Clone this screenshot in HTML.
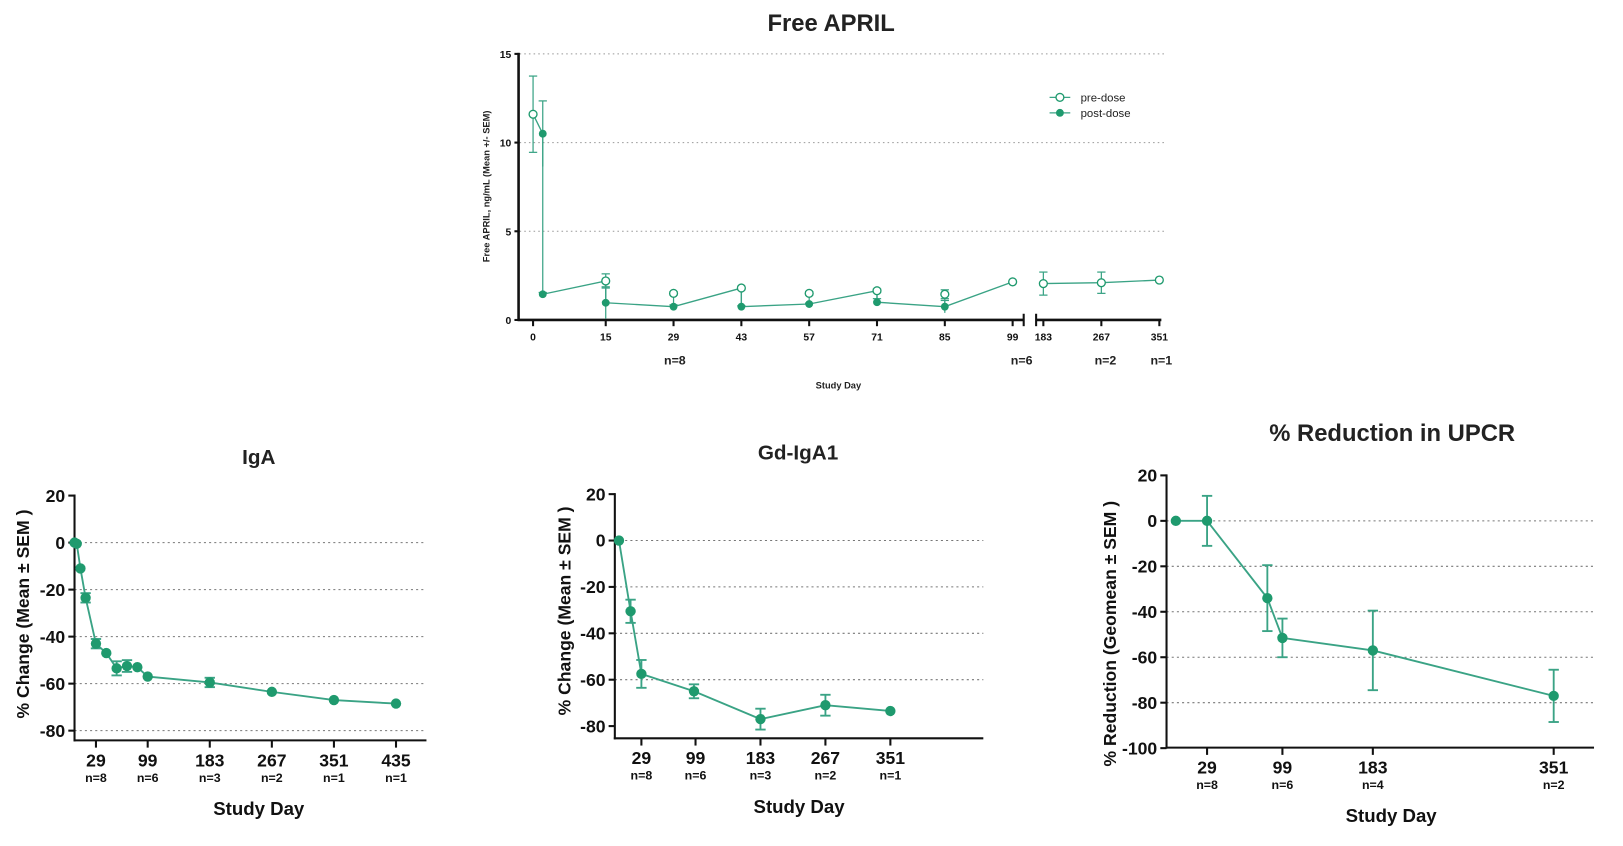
<!DOCTYPE html>
<html><head><meta charset="utf-8"><style>
html,body{margin:0;padding:0;background:#fff;}
svg{display:block;font-family:"Liberation Sans",Arial,sans-serif;}
</style></head><body>
<svg id="s" width="1623" height="846" viewBox="0 0 1568 817" preserveAspectRatio="none"></svg>
<script>
// ---- Free APRIL data ----
const aprilPreDays=[0,15,29,43,57,71,85,99,183,267,351];
const aprilPreVals=[11.6,2.2,1.5,1.8,1.5,1.65,1.45,2.15,2.05,2.1,2.25];
const aprilPreErr=[2.15,0.4,0.1,0.1,0.1,0.1,0.25,0.05,0.65,0.6,0.05];
const aprilPostDays=[2,2,15,29,43,57,71,85];
const aprilPostVals=[10.5,1.45,0.97,0.75,0.75,0.9,1.0,0.75];
const aprilPostErr=[1.85,0.1,0.9,0.1,0.05,0.05,0.2,0.35];
const aprilYTicks=[0,5,10,15];
const aprilXTicks=[0,15,29,43,57,71,85,99,183,267,351];
// ---- IgA ----
const igaDays=[0,3,8,15,29,43,57,71,85,99,183,267,351,435];
const igaVals=[0,-0.5,-11,-23.5,-43,-47,-53.5,-52.5,-53,-57,-59.5,-63.5,-67,-68.5];
const igaErr=[1,1,1,2,2,1,3,2.5,1,1,2,1,1,1];
const igaXTicks=[29,99,183,267,351,435];
const igaN=["n=8","n=6","n=3","n=2","n=1","n=1"];
const igaYTicks=[20,0,-20,-40,-60,-80];
// ---- Gd-IgA1 ----
const gdDays=[0,15,29,97,183,267,351];
const gdVals=[0,-30.5,-57.5,-65,-77,-71,-73.5];
const gdErr=[0,5,6,3,4.5,4.5,1];
const gdXTicks=[29,99,183,267,351];
const gdN=["n=8","n=6","n=3","n=2","n=1"];
const gdYTicks=[20,0,-20,-40,-60,-80];
// ---- UPCR ----
const upDays=[0,29,85,99,183,351];
const upVals=[0,0,-34,-51.5,-57,-77];
const upErr=[0,11,14.5,8.5,17.5,11.5];
const upXTicks=[29,99,183,351];
const upN=["n=8","n=6","n=4","n=2"];
const upYTicks=[20,0,-20,-40,-60,-80,-100];

const NS="http://www.w3.org/2000/svg";
const svg=document.getElementById('s');
const G="#1f9a6e", GL="#3aa385";
function el(tag,attrs,parent,text){const e=document.createElementNS(NS,tag);for(const k in attrs)e.setAttribute(k,attrs[k]);if(text!==undefined)e.textContent=text;(parent||svg).appendChild(e);return e;}

// ===== Free APRIL =====
(function(){
  const g=el('g',{});
  
  
  const x=d=> d<=99 ? 515+d*4.68 : 1008+(d-183)*0.667;
  const y=v=> 309-v*17.13;
  let t=el('text',{x:803,y:30,'text-anchor':'middle','font-size':23,'font-weight':'bold',fill:'#222'},g,'Free APRIL');
  
  aprilYTicks.forEach(v=>{
    if(v>0){const l=el('line',{x1:502,x2:1125,y1:y(v),y2:y(v),stroke:'#999','stroke-dasharray':'1.5,3','stroke-width':1},g);}
    el('line',{x1:497,x2:502,y1:y(v),y2:y(v),stroke:'#111','stroke-width':2},g);
    const tt=el('text',{x:494,y:y(v)+4,'text-anchor':'end','font-size':10,'font-weight':'bold',fill:'#111'},g,v);
    
  });
  el('line',{x1:501,x2:501,y1:y(15)-1,y2:310,stroke:'#111','stroke-width':2.5},g);
  el('line',{x1:500,x2:989,y1:309,y2:309,stroke:'#111','stroke-width':2.5},g);
  el('line',{x1:1001,x2:1122,y1:309,y2:309,stroke:'#111','stroke-width':2.5},g);
  el('line',{x1:989,x2:989,y1:303,y2:315,stroke:'#111','stroke-width':2},g);
  el('line',{x1:1001,x2:1001,y1:303,y2:315,stroke:'#111','stroke-width':2},g);
  aprilXTicks.forEach(d=>{
    el('line',{x1:x(d),x2:x(d),y1:309,y2:315,stroke:'#111','stroke-width':2},g);
    const tt=el('text',{x:x(d),y:329,'text-anchor':'middle','font-size':10,'font-weight':'bold',fill:'#111'},g,d);
    
  });
  [["n=8",652],["n=6",987],["n=2",1068],["n=1",1122]].forEach(a=>{const tt=el('text',{x:a[1],y:352,'text-anchor':'middle','font-size':12,'font-weight':'bold',fill:'#222'},g,a[0]);});
  t=el('text',{x:810,y:375,'text-anchor':'middle','font-size':9,'font-weight':'bold',fill:'#222'},g,'Study Day');
  
  t=el('text',{transform:'translate(473,180) rotate(-90)','text-anchor':'middle','font-size':9,'font-weight':'bold',fill:'#222'},g,'Free  APRIL, ng/mL (Mean +/-  SEM)');
  
  aprilPreDays.forEach((d,i)=>{const e=aprilPreErr[i];el('line',{x1:x(d),x2:x(d),y1:y(aprilPreVals[i]+e),y2:y(aprilPreVals[i]-e),stroke:GL,'stroke-width':1.2},g);
    el('line',{x1:x(d)-4,x2:x(d)+4,y1:y(aprilPreVals[i]+e),y2:y(aprilPreVals[i]+e),stroke:GL,'stroke-width':1.2},g);
    el('line',{x1:x(d)-4,x2:x(d)+4,y1:y(aprilPreVals[i]-e),y2:y(aprilPreVals[i]-e),stroke:GL,'stroke-width':1.2},g);});
  aprilPostDays.forEach((d,i)=>{const e=aprilPostErr[i];el('line',{x1:x(d),x2:x(d),y1:y(aprilPostVals[i]+e),y2:y(aprilPostVals[i]-e),stroke:GL,'stroke-width':1.2},g);
    el('line',{x1:x(d)-4,x2:x(d)+4,y1:y(aprilPostVals[i]+e),y2:y(aprilPostVals[i]+e),stroke:GL,'stroke-width':1.2},g);});
  aprilPostDays.forEach((d,i)=>{const j=aprilPreDays.indexOf(d);if(j>=0){el('line',{x1:x(d),x2:x(d),y1:y(aprilPreVals[j]),y2:y(aprilPostVals[i]),stroke:GL,'stroke-width':1.2},g);}});
  el('line',{x1:x(aprilPostDays[0]),x2:x(aprilPostDays[1]),y1:y(aprilPostVals[0]),y2:y(aprilPostVals[1]),stroke:GL,'stroke-width':1.2},g);
  const P=(a,i)=>a==='pre'?[x(aprilPreDays[i]),y(aprilPreVals[i])]:[x(aprilPostDays[i]),y(aprilPostVals[i])];
  const order=[['pre',0],['post',0]];
  const order2=[['post',1],['pre',1],['post',2],['post',3],['pre',3],['post',4],['post',5],['pre',5],['post',6],['post',7],['pre',7]];
  const order3=[['pre',8],['pre',9],['pre',10]];
  [order,order2,order3].forEach(o=>{const p=el('polyline',{points:o.map(q=>P(q[0],q[1]).join(',')).join(' '),fill:'none',stroke:GL,'stroke-width':1.3},g);});
  aprilPreDays.forEach((d,i)=>{const c=el('circle',{cx:x(d),cy:y(aprilPreVals[i]),r:3.8,fill:'#fff',stroke:G,'stroke-width':1.3},g);});
  aprilPostDays.forEach((d,i)=>{const c=el('circle',{cx:x(d),cy:y(aprilPostVals[i]),r:3.8,fill:G},g);});
  const lg=el('g',{},g);
  el('line',{x1:1014,x2:1034,y1:94,y2:94,stroke:GL,'stroke-width':1.2},lg);
  el('circle',{cx:1024,cy:94,r:3.8,fill:'#fff',stroke:G,'stroke-width':1.3},lg);
  el('text',{x:1044,y:98,'font-size':11,fill:'#222'},lg,'pre-dose');
  el('line',{x1:1014,x2:1034,y1:109,y2:109,stroke:GL,'stroke-width':1.2},lg);
  el('circle',{cx:1024,cy:109,r:3.8,fill:G},lg);
  el('text',{x:1044,y:113,'font-size':11,fill:'#222'},lg,'post-dose');
})();

function chart(o){
  const g=el('g',{});
  
  
  const x=d=>o.x0+d*o.k, y=v=>o.y0-v*o.ky;
  const yMin=o.yTicks[o.yTicks.length-1], yMax=o.yTicks[0];
  let t=el('text',{x:o.tx,y:o.ty,'text-anchor':'middle','font-size':o.tfs,'font-weight':'bold',fill:'#222'},g,o.title);
  
  o.yTicks.forEach(v=>{
    if(v<=0&&v>yMin||(v===yMin&&o.gridBottom)){const l=el('line',{x1:o.ax,x2:o.xEnd,y1:y(v),y2:y(v),stroke:'#777','stroke-dasharray':'2,3','stroke-width':1},g);}
    el('line',{x1:o.ax-6,x2:o.ax,y1:y(v),y2:y(v),stroke:'#111','stroke-width':2},g);
    const tt=el('text',{x:o.ax-9,y:y(v)+6,'text-anchor':'end','font-size':17,'font-weight':'bold',fill:'#111'},g,v);
    
  });
  const axY=o.axY;
  el('line',{x1:o.ax,x2:o.ax,y1:y(yMax)-1,y2:axY+1,stroke:'#111','stroke-width':2},g);
  el('line',{x1:o.ax-1,x2:o.xEnd,y1:axY,y2:axY,stroke:'#111','stroke-width':2},g);
  o.xTicks.forEach((d,i)=>{
    el('line',{x1:x(d),x2:x(d),y1:axY,y2:axY+7,stroke:'#111','stroke-width':2},g);
    let tt=el('text',{x:x(d),y:axY+25,'text-anchor':'middle','font-size':17,'font-weight':'bold',fill:'#111'},g,d);
    
    tt=el('text',{x:x(d),y:axY+40,'text-anchor':'middle','font-size':12,'font-weight':'bold',fill:'#111'},g,o.n[i]);
    
  });
  t=el('text',{x:o.xtx,y:axY+72,'text-anchor':'middle','font-size':18,'font-weight':'bold',fill:'#111'},g,'Study Day');
  
  t=el('text',{transform:`translate(${o.ytx},${o.yty}) rotate(-90)`,'text-anchor':'middle','font-size':17,'font-weight':'bold',fill:'#111'},g,o.ytitle);
  
  o.days.forEach((d,i)=>{const e=o.err[i];if(e<=1.2)return;
    el('line',{x1:x(d),x2:x(d),y1:y(o.vals[i]+e),y2:y(o.vals[i]-e),stroke:GL,'stroke-width':1.8},g);
    el('line',{x1:x(d)-5,x2:x(d)+5,y1:y(o.vals[i]+e),y2:y(o.vals[i]+e),stroke:GL,'stroke-width':1.8},g);
    el('line',{x1:x(d)-5,x2:x(d)+5,y1:y(o.vals[i]-e),y2:y(o.vals[i]-e),stroke:GL,'stroke-width':1.8},g);});
  const p=el('polyline',{points:o.days.map((d,i)=>x(d)+','+y(o.vals[i])).join(' '),fill:'none',stroke:GL,'stroke-width':1.8},g);
  
  o.days.forEach((d,i)=>{const c=el('circle',{cx:x(d),cy:y(o.vals[i]),r:5,fill:G},g);});
}
chart({name:'iga-chart',title:'IgA',tx:250,ty:448,tfs:20,x0:72,k:0.714,y0:524,ky:2.27,ax:72,axY:715,xEnd:412,
  yTicks:igaYTicks,xTicks:igaXTicks,n:igaN,days:igaDays,vals:igaVals,err:igaErr,xtx:250,ytitle:'% Change (Mean ± SEM )',ytx:28,yty:593,gridBottom:true});
chart({name:'gd-iga1-chart',title:'Gd-IgA1',tx:771,ty:444,tfs:20,x0:598,k:0.747,y0:522,ky:2.24,ax:594,axY:713,xEnd:950,
  yTicks:gdYTicks,xTicks:gdXTicks,n:gdN,days:gdDays,vals:gdVals,err:gdErr,xtx:772,ytitle:'% Change (Mean ± SEM )',ytx:551,yty:590,gridBottom:false});
chart({name:'upcr-chart',title:'% Reduction in UPCR',tx:1345,ty:426,tfs:23,x0:1136,k:1.04,y0:503,ky:2.195,ax:1127,axY:722,xEnd:1540,
  yTicks:upYTicks,xTicks:upXTicks,n:upN,days:upDays,vals:upVals,err:upErr,xtx:1344,ytitle:'% Reduction (Geomean ± SEM )',ytx:1078,yty:612,gridBottom:false});
</script>
</body></html>
